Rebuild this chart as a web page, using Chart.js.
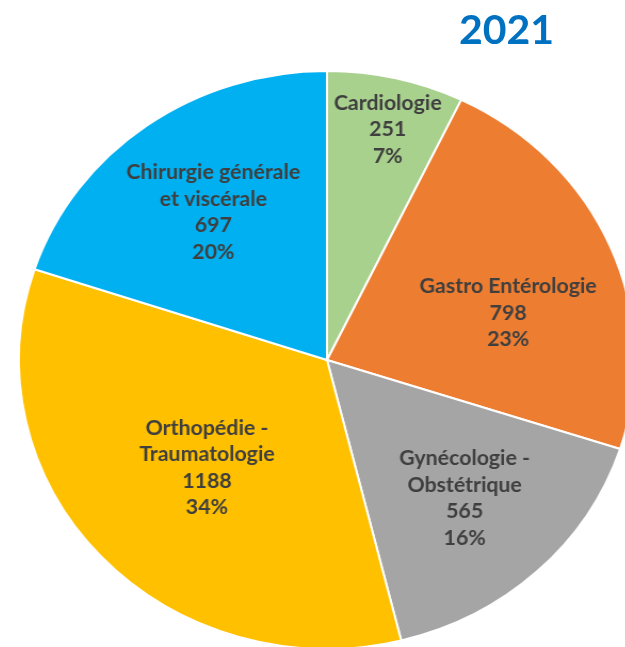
<!DOCTYPE html>
<html>
<head>
<meta charset="utf-8">
<script src="https://cdn.jsdelivr.net/npm/chart.js@4/dist/chart.umd.min.js"></script>
<style>
  html, body { margin: 0; padding: 0; background: #fff; overflow: hidden; width: 625px; height: 647px; }
  #title { position: absolute; left: 459px; top: 4px; font-family: Lato, "Open Sans", sans-serif; font-weight: 700; font-size: 41px; color: #0070C0; z-index: 2; }
  #wrap { position: absolute; left: 0; top: 0; width: 625px; height: 700px; transform: scaleX(1.066); transform-origin: 327px 0; }
</style>
</head>
<body>
<div id="title">2021</div>
<div id="wrap"><canvas id="c" width="625" height="700"></canvas></div>
<script>
const categories = [
  ["Cardiologie"],
  ["Gastro Entérologie"],
  ["Gynécologie -", "Obstétrique"],
  ["Orthopédie -", "Traumatologie"],
  ["Chirurgie générale", "et viscérale"]
];
const values = [251, 798, 565, 1188, 697];
const colors = ["#A9D18E", "#ED7D31", "#A5A5A5", "#FFC000", "#00B0F0"];
const labelRadius = [0.82, 0.61, 0.655, 0.54, 0.63];
const labelAngleShift = [1, 7.7, 0, -1, 0];

const total = values.reduce((a, b) => a + b, 0);

const labelPlugin = {
  id: 'sliceLabels',
  afterDatasetsDraw(chart) {
    const ctx = chart.ctx;
    const meta = chart.getDatasetMeta(0);
    ctx.save();
    ctx.fillStyle = '#3f3f3f';
    ctx.font = 'bold 20px Lato, "Open Sans", sans-serif';
    ctx.textAlign = 'center';
    ctx.textBaseline = 'middle';
    const lh = 26.5;
    meta.data.forEach((arc, i) => {
      const p = arc.getProps(['x', 'y', 'startAngle', 'endAngle', 'outerRadius']);
      const a = (p.startAngle + p.endAngle) / 2 + labelAngleShift[i] * Math.PI / 180;
      const r = p.outerRadius * labelRadius[i];
      const cx = p.x + Math.cos(a) * r;
      const cy = p.y + Math.sin(a) * r;
      const lines = categories[i].concat([String(values[i]), Math.round(values[i] / total * 100) + '%']);
      const y0 = cy - (lines.length - 1) * lh / 2;
      lines.forEach((t, k) => ctx.fillText(t, cx, y0 + k * lh));
    });
    ctx.restore();
  }
};

new Chart(document.getElementById('c'), {
  type: 'pie',
  data: {
    labels: categories.map(c => c.join(' ')),
    datasets: [{
      data: values,
      backgroundColor: colors,
      borderColor: '#ffffff',
      borderWidth: 2
    }]
  },
  options: {
    responsive: false,
    animation: false,
    layout: { padding: { left: 37, right: 8, top: 70, bottom: 50 } },
    plugins: { legend: { display: false }, tooltip: { enabled: false } }
  },
  plugins: [labelPlugin]
});
</script>
</body>
</html>
